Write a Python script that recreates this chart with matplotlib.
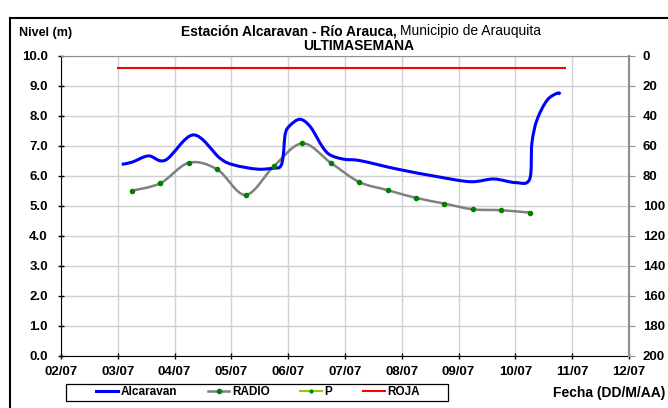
import numpy as np
import matplotlib
matplotlib.use("Agg")
import matplotlib.pyplot as plt
from matplotlib.path import Path
from matplotlib.patches import PathPatch, Rectangle
from matplotlib.lines import Line2D

plt.rcParams['font.family'] = ['Liberation Sans', 'DejaVu Sans']
plt.rcParams['font.size'] = 9.5

# dias de julio (fraccion = hora del dia)
alc_x = [3.07, 3.25, 3.54, 3.84, 4.33, 4.80, 5.04, 5.45, 5.74, 5.86, 5.91, 5.95,
         6.04, 6.21, 6.39, 6.60, 6.74, 6.98, 7.27, 7.92, 8.62, 9.21, 9.62, 10.00,
         10.25, 10.29, 10.38, 10.56, 10.74, 10.79]
alc_y = [6.39, 6.46, 6.67, 6.53, 7.37, 6.59, 6.37, 6.23, 6.26, 6.31, 6.64, 7.42,
         7.70, 7.89, 7.64, 6.98, 6.70, 6.56, 6.51, 6.23, 5.98, 5.81, 5.90, 5.78,
         5.89, 7.09, 7.87, 8.53, 8.76, 8.72]

radio_x = [3.25, 3.75, 4.25, 4.75, 5.25, 5.75, 6.25, 6.75, 7.25, 7.75, 8.25,
           8.75, 9.25, 9.75, 10.25]
radio_y = [5.51, 5.76, 6.44, 6.22, 5.37, 6.33, 7.09, 6.44, 5.80, 5.53, 5.27,
           5.08, 4.89, 4.86, 4.78]

roja_x = [3.0, 10.88]
roja_y = [9.6, 9.6]

xticks = list(range(2, 13))
xlabels = ['%02d/07' % d for d in xticks]


def suave(x, y):
    # curva suavizada tipo excel (bezier por puntos)
    p = np.column_stack([x, y])
    n = len(p)
    verts = [p[0]]
    codes = [Path.MOVETO]
    for i in range(n - 1):
        p0 = p[i - 1] if i > 0 else p[i]
        p3 = p[i + 2] if i + 2 < n else p[i + 1]
        c1 = p[i] + (p[i + 1] - p0) / 6
        c2 = p[i + 1] - (p3 - p[i]) / 6
        verts += [c1, c2, p[i + 1]]
        codes += [Path.CURVE4] * 3
    return Path(verts, codes)


fig = plt.figure(figsize=(6.68, 4.08), dpi=100)
ax = fig.add_axes([61 / 668, 1 - 356 / 408, 568 / 668, 300 / 408])

ax.set_xlim(2, 12)
ax.set_ylim(0, 10)
ax.set_xticks(xticks)
ax.set_xticklabels(xlabels, fontweight='bold')
ax.set_yticks(np.arange(0, 11, 1))
ax.set_yticklabels(['%.1f' % v for v in np.arange(0, 11, 1)], fontweight='bold')
ax.grid(True, color='#d0d0d0', lw=1)
ax.set_axisbelow(True)
ax.tick_params(direction='inout', length=5, width=1)
ax.tick_params(axis='x', pad=5)
ax.tick_params(axis='y', pad=7)
for s in ['top', 'right']:
    ax.spines[s].set_color('#909090')
ax.spines['left'].set_color('black')
ax.spines['bottom'].set_color('black')

ax.add_patch(PathPatch(suave(alc_x, alc_y), fc='none', ec='#0000ff', lw=2.2,
                       transform=ax.transData, zorder=4))
ax.add_patch(PathPatch(suave(radio_x, radio_y), fc='none', ec='#808080', lw=1.8,
                       transform=ax.transData, zorder=3))
ax.plot(radio_x, radio_y, ls='none', marker='o', ms=3, color='#008000', zorder=5)
ax.plot(roja_x, roja_y, color='#ff0000', lw=1.5, zorder=3)

ax2 = ax.twinx()
ax2.set_ylim(200, 0)
ax2.set_yticks(np.arange(0, 201, 20))
ax2.set_yticklabels([str(v) for v in range(0, 201, 20)], fontweight='bold')
ax2.tick_params(direction='out', length=4, color='#909090', pad=6)
for s in ax2.spines.values():
    s.set_visible(False)
ax2.spines['right'].set_visible(True)
ax2.spines['right'].set_color('#909090')
ax2.spines['right'].set_linewidth(1.5)

fig.text(19 / 668, 1 - 33 / 408, 'Nivel (m)', fontweight='bold', va='center', fontsize=9)
fig.text(397 / 668, 1 - 31 / 408, 'Estación Alcaravan - Río Arauca,', fontweight='bold',
         ha='right', va='center', fontsize=10)
fig.text(400 / 668, 1 - 31 / 408, 'Municipio de Arauquita', ha='left', va='center',
         fontsize=10)
fig.text(359 / 668, 1 - 45.5 / 408, 'ULTIMASEMANA', fontweight='bold', ha='center',
         va='center', fontsize=10)
fig.text(665 / 668, 1 - 393 / 408, 'Fecha (DD/M/AA)', fontweight='bold', ha='right',
         va='center', fontsize=10)

handles = [Line2D([], [], color='#0000ff', lw=2.2),
           Line2D([], [], color='#808080', lw=1.8, marker='o', ms=3, mfc='#008000', mec='#008000'),
           Line2D([], [], color='#99cc00', lw=1.5, marker='o', ms=2, mfc='#008000', mec='#008000'),
           Line2D([], [], color='#ff0000', lw=1.5)]
leg = fig.legend(handles, ['Alcaravan', 'RADIO', 'P', 'ROJA'], ncol=4,
                 loc='center', bbox_to_anchor=(258 / 668, 1 - 392 / 408),
                 frameon=False, handlelength=1.85, handletextpad=0.2,
                 columnspacing=2.6, borderpad=0.2,
                 prop={'weight': 'bold', 'size': 8.5})
fig.add_artist(Rectangle((66 / 668, 1 - 401 / 408), 382 / 668, 17 / 408, fill=False,
                         ec='black', lw=0.9, transform=fig.transFigure))

# marco exterior
fig.add_artist(Line2D([10 / 668, 1], [1 - 18 / 408] * 2, color='black', lw=1.5,
                      transform=fig.transFigure))
fig.add_artist(Line2D([10 / 668] * 2, [0, 1 - 18 / 408], color='black', lw=1.5,
                      transform=fig.transFigure))

fig.savefig('out.png', dpi=100, facecolor='white')
